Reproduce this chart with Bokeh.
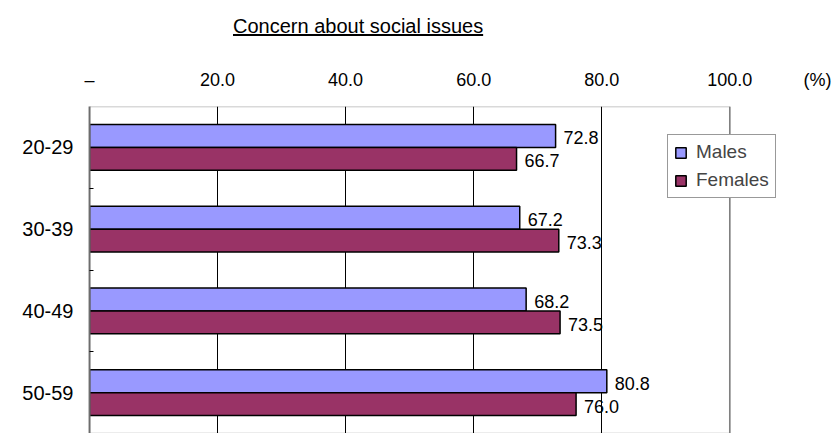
from bokeh.plotting import figure
from bokeh.models import (Range1d, FixedTicker, NumeralTickFormatter, Legend,
                          LegendItem, ColumnDataSource, Div, Span, BoxAnnotation)
from bokeh.layouts import column
from bokeh.core.properties import value
from bokeh.embed import file_html
from bokeh.resources import INLINE

# ---- data ----
title_text = "Concern about social issues"
categories = ["20-29", "30-39", "40-49", "50-59"]
males = [72.8, 67.2, 68.2, 80.8]
females = [66.7, 73.3, 73.5, 76.0]
x_ticks = [0, 20, 40, 60, 80, 100]
unit_text = "(%)"

FONT = "Liberation Sans"
X_MAX = 100
X_VIEW_END = 117.3      # frame extends to the right edge so the legend / unit fit
UNIT_POS = 113.7        # where the unit caption sits along the top axis
n = len(categories)
centers = [n - i - 0.5 for i in range(n)]
boundaries = [float(k) for k in range(1, n)]
bar_h = 0.28

src = ColumnDataSource(dict(
    cat=categories,
    y_m=[c + bar_h / 2 for c in centers],
    y_f=[c - bar_h / 2 for c in centers],
    males=males,
    females=females,
    lab_m=[f"{v:.1f}" for v in males],
    lab_f=[f"{v:.1f}" for v in females],
))

p = figure(width=840, height=393, x_range=Range1d(0, X_VIEW_END), y_range=Range1d(0, n),
           x_axis_location="above", output_backend="svg", toolbar_location=None,
           min_border_left=89, min_border_right=0, min_border_top=66, min_border_bottom=0)

# plot-area border: dark top, grey right side at 100
p.add_layout(BoxAnnotation(left=0, right=X_MAX, bottom=0, top=n, fill_alpha=0,
                           line_color="black", line_width=1.5))
p.add_layout(Span(location=X_MAX, dimension="height", line_color="#808080", line_width=1.5))

r_m = p.hbar(y="y_m", right="males", left=0, height=bar_h, source=src,
             fill_color="#9999FF", line_color="black", line_width=1.5)
r_f = p.hbar(y="y_f", right="females", left=0, height=bar_h, source=src,
             fill_color="#993366", line_color="black", line_width=1.5)

p.text(x="males", y="y_m", text="lab_m", source=src, x_offset=8, y_offset=2,
       text_baseline="middle", text_font=value(FONT), text_font_size="18px", text_color="black")
p.text(x="females", y="y_f", text="lab_f", source=src, x_offset=8, y_offset=2,
       text_baseline="middle", text_font=value(FONT), text_font_size="18px", text_color="black")

# x axis (top)
xa = p.xaxis[0]
xa.ticker = FixedTicker(ticks=x_ticks + [UNIT_POS])
xa.formatter = NumeralTickFormatter(format="0.0")
xa.major_label_overrides = {0: "–", UNIT_POS: unit_text}
xa.major_tick_out = 0
xa.major_tick_in = 0
xa.minor_tick_out = 0
xa.minor_tick_in = 0
xa.axis_line_color = None
xa.major_label_standoff = 17
xa.major_label_text_font = FONT
xa.major_label_text_font_size = "18px"
xa.major_label_text_color = "black"

# y axis (left)
ya = p.yaxis[0]
ya.ticker = FixedTicker(ticks=centers, minor_ticks=boundaries)
ya.major_label_overrides = {c: cat for c, cat in zip(centers, categories)}
ya.major_tick_out = 0
ya.major_tick_in = 0
ya.minor_tick_in = 4
ya.minor_tick_out = 0
ya.minor_tick_line_color = "black"
ya.axis_line_color = "#808080"
ya.axis_line_width = 2
ya.major_label_standoff = 16
ya.major_label_text_font = FONT
ya.major_label_text_font_size = "20px"
ya.major_label_text_color = "black"

p.xgrid.ticker = FixedTicker(ticks=[t for t in x_ticks if 0 < t < X_MAX])
p.xgrid.grid_line_color = "black"
p.xgrid.grid_line_width = 1
p.ygrid.grid_line_color = None
p.outline_line_color = None
p.background_fill_color = "white"
p.border_fill_color = "white"

legend = Legend(items=[LegendItem(label="Males", renderers=[r_m]),
                       LegendItem(label="Females", renderers=[r_f])],
                location=(578, 235), orientation="vertical",
                label_text_font=FONT, label_text_font_size="19px",
                glyph_width=13, glyph_height=13, label_standoff=9,
                padding=6, spacing=6, margin=0, label_height=22,
                border_line_color="#333333", border_line_width=1,
                background_fill_alpha=1)
p.add_layout(legend)

title = Div(text=f'<div style="padding-left:233px;padding-top:12px;font-family:\'{FONT}\';'
                 f'font-size:20px;text-decoration:underline;color:black;white-space:nowrap">{title_text}</div>',
            width=840, height=40, margin=0)

layout = column(title, p, spacing=0)
open("out.html", "w").write(file_html(layout, INLINE))
